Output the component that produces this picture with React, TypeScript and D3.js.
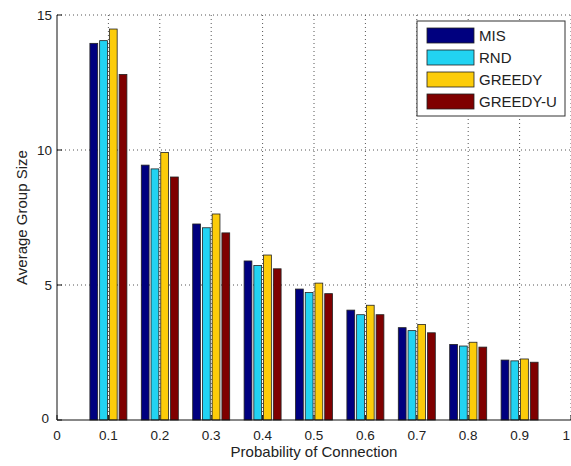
import React, { useEffect, useRef } from "react";
import * as d3 from "d3";

const probabilities = [0.1, 0.2, 0.3, 0.4, 0.5, 0.6, 0.7, 0.8, 0.9];
const seriesNames = ["MIS", "RND", "GREEDY", "GREEDY-U"];
const misValues = [13.95, 9.44, 7.26, 5.89, 4.85, 4.07, 3.42, 2.8, 2.22];
const rndValues = [14.05, 9.3, 7.12, 5.72, 4.72, 3.9, 3.31, 2.74, 2.19];
const greedyValues = [14.48, 9.91, 7.63, 6.11, 5.07, 4.25, 3.54, 2.88, 2.26];
const greedyUValues = [12.8, 9.0, 6.93, 5.6, 4.68, 3.9, 3.23, 2.7, 2.14];
const xTicks = [0, 0.1, 0.2, 0.3, 0.4, 0.5, 0.6, 0.7, 0.8, 0.9, 1];
const yTicks = [0, 5, 10, 15];

const App = () => {
  const ref = useRef<SVGSVGElement>(null);

  useEffect(() => {
    const svg = d3.select(ref.current);
    svg.selectAll("*").remove();

    const width = 571;
    const height = 466;
    const margin = { top: 15, right: 0, bottom: 46, left: 57 };
    const font = "'Liberation Sans', Arial, sans-serif";

    const color = d3
      .scaleOrdinal<string>()
      .domain(seriesNames)
      .range(["#00007f", "#22d3f2", "#fccc0a", "#7f0000"]);

    const x = d3.scaleLinear().domain([0, 1]).range([margin.left, width - margin.right]);
    const y = d3.scaleLinear().domain([0, 15]).range([height - margin.bottom, margin.top]);
    const inner = d3.scaleBand().domain(seriesNames).range([-18.5, 18.5]).paddingInner(0.2);

    const allSeries = [misValues, rndValues, greedyValues, greedyUValues];
    const rows = probabilities.map((p, i) => ({
      p,
      values: seriesNames.map((name, k) => ({ name, value: allSeries[k][i] })),
    }));

    // grid
    const grid = svg.append("g").attr("stroke", "#555").attr("stroke-dasharray", "1,3");
    grid
      .selectAll("line.v")
      .data(xTicks.slice(1))
      .join("line")
      .attr("x1", (d) => x(d))
      .attr("x2", (d) => x(d))
      .attr("y1", y(0))
      .attr("y2", y(15));
    grid
      .selectAll("line.h")
      .data(yTicks.slice(1))
      .join("line")
      .attr("x1", x(0))
      .attr("x2", x(1))
      .attr("y1", (d) => y(d))
      .attr("y2", (d) => y(d));

    // bars
    svg
      .append("g")
      .selectAll("g")
      .data(rows)
      .join("g")
      .attr("transform", (d) => `translate(${x(d.p)},0)`)
      .selectAll("rect")
      .data((d) => d.values)
      .join("rect")
      .attr("x", (d) => inner(d.name)!)
      .attr("width", inner.bandwidth())
      .attr("y", (d) => y(d.value))
      .attr("height", (d) => y(0) - y(d.value))
      .attr("fill", (d) => color(d.name))
      .attr("stroke", "#222")
      .attr("stroke-width", 0.8);

    // axes
    const axisG = svg.append("g").attr("font-family", font).attr("font-size", 13.5).attr("fill", "#222");
    axisG
      .append("line")
      .attr("x1", x(0))
      .attr("x2", x(0))
      .attr("y1", y(0))
      .attr("y2", y(15))
      .attr("stroke", "#111");
    axisG
      .append("line")
      .attr("x1", x(0))
      .attr("x2", x(1))
      .attr("y1", y(0))
      .attr("y2", y(0))
      .attr("stroke", "#111");

    yTicks.forEach((t) => {
      axisG
        .append("line")
        .attr("x1", x(0))
        .attr("x2", x(0) + 5)
        .attr("y1", y(t))
        .attr("y2", y(t))
        .attr("stroke", "#111");
      axisG
        .append("text")
        .attr("x", x(0) - (t === 0 ? 8 : 5))
        .attr("y", y(t) + (t === 0 ? 3 : 5))
        .attr("text-anchor", "end")
        .text(t);
    });

    xTicks.forEach((t) => {
      axisG
        .append("line")
        .attr("x1", x(t))
        .attr("x2", x(t))
        .attr("y1", y(0))
        .attr("y2", y(0) - 5)
        .attr("stroke", "#111");
      axisG
        .append("text")
        .attr("x", t === 1 ? x(t) - 1 : x(t))
        .attr("y", y(0) + 20)
        .attr("text-anchor", t === 1 ? "end" : "middle")
        .text(t === 0 ? "0" : t === 1 ? "1" : d3.format(".1f")(t));
    });

    axisG
      .append("text")
      .attr("x", 314)
      .attr("y", 457)
      .attr("font-size", 15)
      .attr("text-anchor", "middle")
      .text("Probability of Connection");

    axisG
      .append("text")
      .attr("transform", `translate(27,${(y(0) + y(15)) / 2}) rotate(-90)`)
      .attr("font-size", 15)
      .attr("text-anchor", "middle")
      .text("Average Group Size");

    // legend
    const legend = svg.append("g").attr("transform", "translate(417,21)");
    legend
      .append("rect")
      .attr("width", 148)
      .attr("height", 95)
      .attr("fill", "#fff")
      .attr("stroke", "#333");
    seriesNames.forEach((name, i) => {
      const row = legend.append("g").attr("transform", `translate(10,${7 + i * 22})`);
      row
        .append("rect")
        .attr("width", 47)
        .attr("height", 15)
        .attr("fill", color(name))
        .attr("stroke", "#222")
        .attr("stroke-width", 0.8);
      row
        .append("text")
        .attr("x", 52)
        .attr("y", 13)
        .attr("font-family", font)
        .attr("font-size", 15)
        .attr("fill", "#222")
        .text(name);
    });
  }, []);

  return (
    <svg
      ref={ref}
      width={571}
      height={466}
      style={{ position: "absolute", left: 0, top: 0, background: "#fff" }}
    />
  );
};

export default App;
